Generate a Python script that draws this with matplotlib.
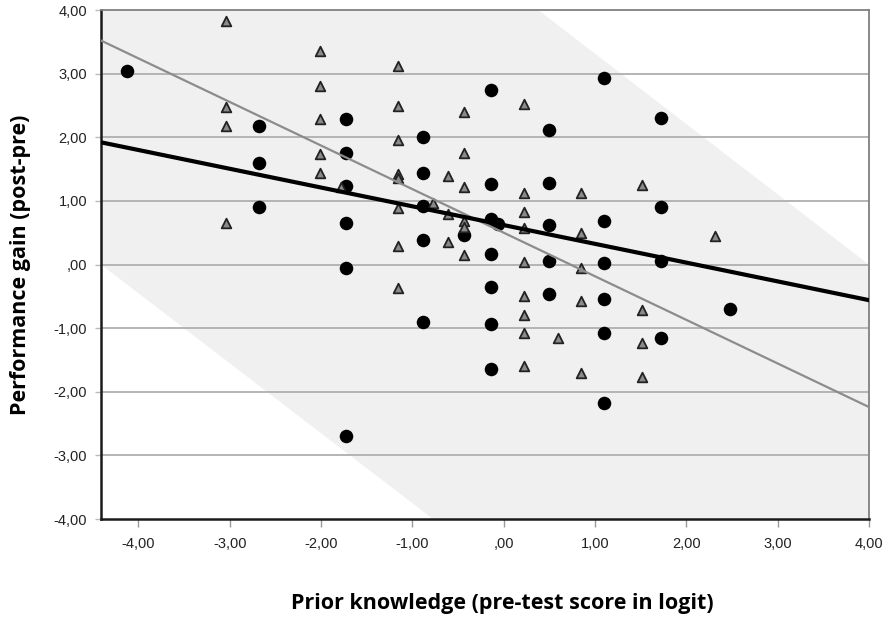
import numpy as np
import matplotlib
matplotlib.use('Agg')
import matplotlib.pyplot as plt
from matplotlib.ticker import FuncFormatter

# high prior knowledge group (black circles)
circ_x = [-4.13, -2.68, -2.68, -2.68,
          -1.73, -1.73, -1.73, -1.73, -1.73, -1.73,
          -0.88, -0.88, -0.88, -0.88, -0.88,
          -0.43,
          -0.14, -0.14, -0.14, -0.14, -0.14, -0.14, -0.14,
          -0.06,
          0.50, 0.50, 0.50, 0.50, 0.50,
          1.10, 1.10, 1.10, 1.10, 1.10, 1.10,
          1.72, 1.72, 1.72, 1.72,
          2.48]
circ_y = [3.04, 2.17, 1.60, 0.90,
          2.29, 1.76, 1.24, 0.65, -0.05, -2.69,
          2.00, 1.44, 0.92, 0.38, -0.90,
          0.46,
          2.75, 1.27, 0.71, 0.17, -0.36, -0.94, -1.64,
          0.63,
          2.11, 1.28, 0.62, 0.05, -0.46,
          2.93, 0.69, 0.03, -0.54, -1.07, -2.18,
          2.31, 0.90, 0.05, -1.16,
          -0.70]

# second group (grey triangles)
tri_x = [-3.04, -3.04, -3.04, -3.04,
         -2.01, -2.01, -2.01, -2.01, -2.01,
         -1.78,
         -1.16, -1.16, -1.16, -1.16, -1.16, -1.16, -1.16, -1.16,
         -0.77,
         -0.61, -0.61, -0.61,
         -0.43, -0.43, -0.43, -0.43, -0.43, -0.43,
         0.22, 0.22, 0.22, 0.22, 0.22, 0.22, 0.22, 0.22, 0.22,
         0.59,
         0.85, 0.85, 0.85, 0.85, 0.85,
         1.51, 1.51, 1.51, 1.51,
         2.31]
tri_y = [3.83, 2.47, 2.18, 0.65,
         3.35, 2.81, 2.28, 1.74, 1.44,
         1.22,
         3.12, 2.49, 1.95, 1.43, 1.36, 0.89, 0.29, -0.37,
         0.96,
         1.39, 0.80, 0.35,
         2.39, 1.76, 1.22, 0.69, 0.59, 0.15,
         2.53, 1.13, 0.82, 0.57, 0.04, -0.49, -0.79, -1.07, -1.60,
         -1.16,
         1.12, 0.50, -0.05, -0.57, -1.70,
         1.25, -0.72, -1.24, -1.77,
         0.45]

# fit lines (intercept, slope)
fit_black = (0.62, -0.295)
fit_grey = (0.50, -0.685)
# shaded band edges (intercept, slope)
band_upper = (4.42, -1.105)
band_lower = (-4.85, -1.10)

xmin, xmax = -4.41, 4.0
ymin, ymax = -4.0, 4.0

fig = plt.figure(figsize=(8.89, 6.19), dpi=100)
ax = fig.add_axes([0.1136, 0.1615, 0.8639, 0.8223])

xs = np.linspace(xmin, xmax, 400)
up = np.clip(band_upper[0] + band_upper[1] * xs, ymin, ymax)
lo = np.clip(band_lower[0] + band_lower[1] * xs, ymin, ymax)
ax.fill_between(xs, lo, up, color='#f0f0f0', lw=0, zorder=0)

for yv in range(-3, 4):
    ax.axhline(yv, color='#b4b4b4', lw=1.4, zorder=1)

ax.scatter(circ_x, circ_y, s=95, c='black', marker='o', lw=0, zorder=3)
ax.scatter(tri_x, tri_y, s=48, c='#8a8a8a', marker='^', edgecolors='#222222',
           linewidths=1.3, zorder=3)

lx = np.array([xmin, xmax])
ax.plot(lx, fit_grey[0] + fit_grey[1] * lx, color='#8c8c8c', lw=1.6, zorder=4)
ax.plot(lx, fit_black[0] + fit_black[1] * lx, color='black', lw=3.0, zorder=4)

ax.set_xlim(xmin, xmax)
ax.set_ylim(ymin, ymax)
ax.set_xticks(np.arange(-4, 5, 1))
ax.set_yticks(np.arange(-4, 5, 1))

def comma_fmt(v, pos):
    if v == 0:
        return ',00'
    return ('%.2f' % v).replace('.', ',')

ax.xaxis.set_major_formatter(FuncFormatter(comma_fmt))
ax.yaxis.set_major_formatter(FuncFormatter(comma_fmt))

for lab in ax.get_xticklabels() + ax.get_yticklabels():
    lab.set_fontfamily(['Liberation Sans Narrow', 'Liberation Sans'])
    lab.set_fontsize(10.5)
    lab.set_color('#222222')
ax.tick_params(axis='x', length=6, width=1, color='#999999', pad=7, direction='out')
ax.tick_params(axis='y', length=4, width=1, color='#bbbbbb', pad=6, direction='out')

for side in ['left', 'bottom']:
    ax.spines[side].set_color('#1a1a1a')
    ax.spines[side].set_linewidth(1.8)
for side in ['top', 'right']:
    ax.spines[side].set_color('#808080')
    ax.spines[side].set_linewidth(1.3)

ax.set_xlabel('Prior knowledge (pre-test score in logit)', fontsize=15.5,
              fontweight='bold', family=['Open Sans', 'DejaVu Sans'])
ax.set_ylabel('Performance gain (post-pre)', fontsize=15.5,
              fontweight='bold', family=['Open Sans', 'DejaVu Sans'], labelpad=16)
ax.xaxis.set_label_coords(0.522, -0.145)

fig.savefig('out.png', dpi=100)
